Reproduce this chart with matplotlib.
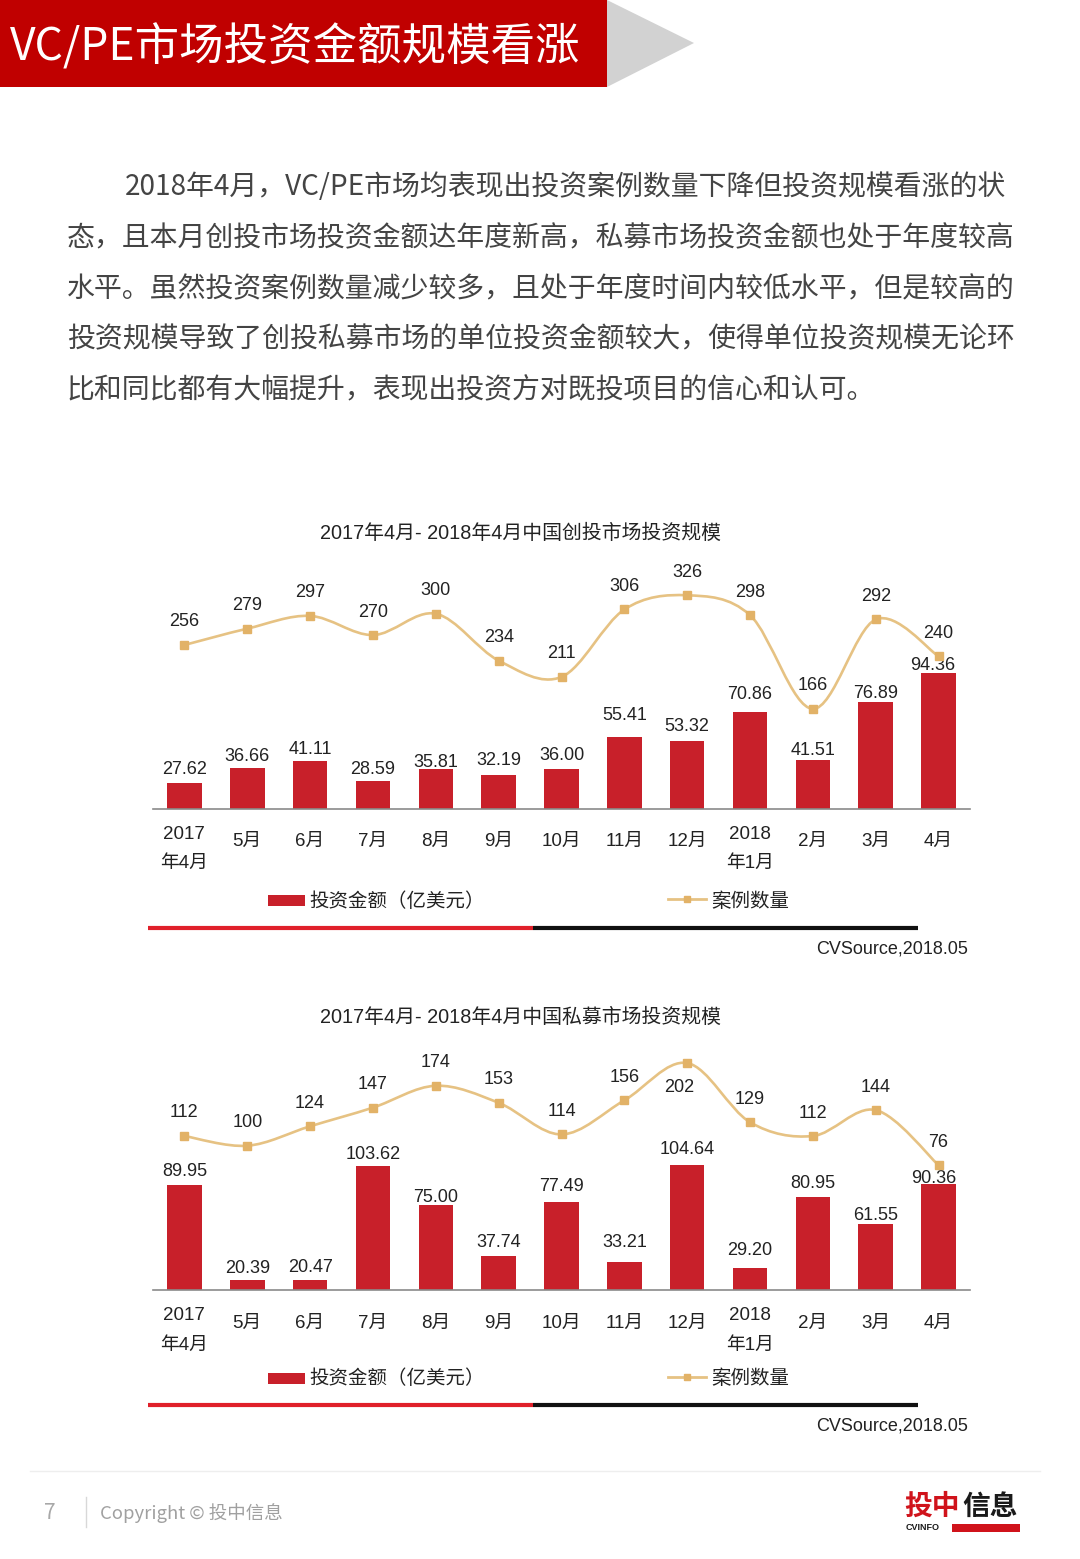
import numpy as np
import matplotlib
matplotlib.use('Agg')
import matplotlib.pyplot as plt
from matplotlib.path import Path
from matplotlib.patches import PathPatch, Rectangle, Polygon
from matplotlib.transforms import blended_transform_factory

# ---- data ----
months = ['2017\n年4月', '5月', '6月', '7月', '8月', '9月', '10月', '11月', '12月',
          '2018\n年1月', '2月', '3月', '4月']
vc_amount = [27.62, 36.66, 41.11, 28.59, 35.81, 32.19, 36.00, 55.41, 53.32, 70.86, 41.51, 76.89, 94.36]
vc_deals = [256, 279, 297, 270, 300, 234, 211, 306, 326, 298, 166, 292, 240]
pe_amount = [89.95, 20.39, 20.47, 103.62, 75.00, 37.74, 77.49, 33.21, 104.64, 29.20, 80.95, 61.55, 90.36]
pe_deals = [112, 100, 124, 147, 174, 153, 114, 156, 202, 129, 112, 144, 76]

vc_title = '2017年4月- 2018年4月中国创投市场投资规模'
pe_title = '2017年4月- 2018年4月中国私募市场投资规模'
legend_bar = '投资金额（亿美元）'
legend_line = '案例数量'
source = 'CVSource,2018.05'

header = 'VC/PE市场投资金额规模看涨'
paragraph = [
    '2018年4月，VC/PE市场均表现出投资案例数量下降但投资规模看涨的状',
    '态，且本月创投市场投资金额达年度新高，私募市场投资金额也处于年度较高',
    '水平。虽然投资案例数量减少较多，且处于年度时间内较低水平，但是较高的',
    '投资规模导致了创投私募市场的单位投资金额较大，使得单位投资规模无论环',
    '比和同比都有大幅提升，表现出投资方对既投项目的信心和认可。',
]

# ---- style ----
W, H = 1080, 1559
RED = '#C8202A'
GOLD_LINE = '#E6C283'
GOLD_MARK = '#E2B267'
TXT = '#222222'
CJK = ['Noto Sans CJK SC', 'DejaVu Sans']
MIX = ['Liberation Sans', 'Noto Sans CJK SC', 'DejaVu Sans']
NUM = ['Liberation Sans', 'DejaVu Sans']

plt.rcParams['font.family'] = CJK

fig = plt.figure(figsize=(W / 100, H / 100), dpi=100)
fig.patch.set_facecolor('white')

page = fig.add_axes([0, 0, 1, 1], zorder=0)
page.set_xlim(0, W)
page.set_ylim(H, 0)
page.axis('off')

# header banner
page.add_patch(Rectangle((0, 0), 607, 87, color='#C00000', lw=0))
page.add_patch(Polygon([(607, 0), (694, 43), (607, 87)], closed=True, color='#D2D2D2', lw=0))
page.text(10, 47, header, color='white', fontsize=32, va='center', ha='left', family=CJK)

# paragraph
para_y = [187, 238, 289, 339, 389]
for k, line in enumerate(paragraph):
    x0 = 125 if k == 0 else 67
    page.text(x0, para_y[k], line, fontsize=20.1, color='#444444', va='center', ha='left', family=CJK)


def smooth_path(x, y):
    # Excel-style smoothed line, drawn as cubic Bezier segments through the points
    pts = np.column_stack([x, y]).astype(float)
    n = len(pts)
    verts = [pts[0]]
    codes = [Path.MOVETO]
    for i in range(n - 1):
        p0 = pts[max(i - 1, 0)]
        p1 = pts[i]
        p2 = pts[i + 1]
        p3 = pts[min(i + 2, n - 1)]
        verts += [p1 + (p2 - p0) / 6, p2 - (p3 - p1) / 6, p2]
        codes += [Path.CURVE4] * 3
    return Path(verts, codes)


def draw_chart(top, base, amount, deals, title, bar_lim, line_lim, lay):
    ax = fig.add_axes([153 / W, 1 - base / H, (970 - 153) / W, (base - top) / H], zorder=2)
    ax.set_facecolor('none')
    x = np.arange(len(amount))
    ax.bar(x, amount, width=0.55, color=RED, zorder=2)
    ax.set_xlim(-0.5, len(amount) - 0.5)
    ax.set_ylim(*bar_lim)
    for s in ['top', 'left', 'right']:
        ax.spines[s].set_visible(False)
    ax.spines['bottom'].set_color('#8A8A8A')
    ax.spines['bottom'].set_linewidth(1.2)
    ax.set_xticks([])
    ax.set_yticks([])

    ax2 = ax.twinx()
    ax2.set_ylim(*line_lim)
    ax2.axis('off')
    ax2.add_patch(PathPatch(smooth_path(x, deals), fill=False, edgecolor=GOLD_LINE, lw=1.9,
                            zorder=3, clip_on=False))
    ax2.plot(x, deals, 's', color=GOLD_MARK, ms=6, zorder=4, clip_on=False)

    for i, v in enumerate(amount):
        dx, dy = lay['bar_off'][i]
        ax.annotate(f'{v:.2f}', (i, v), xytext=(dx, dy), textcoords='offset pixels',
                    ha='center', va='center', fontsize=13, color=TXT, family=NUM,
                    annotation_clip=False, zorder=5)
    for i, v in enumerate(deals):
        dx, dy = lay['line_off'].get(i, (0, 23))
        ax2.annotate(f'{v}', (i, v), xytext=(dx, dy), textcoords='offset pixels',
                     ha='center', va='center', fontsize=13, color=TXT, family=NUM,
                     annotation_clip=False, zorder=5)

    # month labels
    tr = blended_transform_factory(ax.transData, page.transData)
    for i, lab in enumerate(months):
        parts = lab.split('\n')
        if len(parts) == 1:
            ax.text(i, lay['tick1'], lab, transform=tr, ha='center', va='center',
                    fontsize=13.5, color=TXT, family=MIX)
        else:
            for p, yy in zip(parts, lay['tick2']):
                ax.text(i, yy, p, transform=tr, ha='center', va='center',
                        fontsize=13.5, color=TXT, family=MIX)

    page.text(520, lay['title'], title, ha='center', va='center', fontsize=14.3, color=TXT, family=MIX)

    # legend
    ly = lay['legend']
    page.add_patch(Rectangle((268, ly - 6), 37, 11, color=RED, lw=0))
    page.text(309, ly, legend_bar, ha='left', va='center', fontsize=14, color=TXT, family=CJK)
    page.plot([668, 706], [ly - 2, ly - 2], color=GOLD_LINE, lw=2)
    page.plot([687], [ly - 2], 's', color=GOLD_MARK, ms=5)
    page.text(711, ly, legend_line, ha='left', va='center', fontsize=14, color=TXT, family=CJK)

    # rule and source
    ry = lay['rule']
    page.plot([148, 533], [ry, ry], color='#E0202A', lw=3, solid_capstyle='butt')
    page.plot([533, 918], [ry, ry], color='#111111', lw=3, solid_capstyle='butt')
    page.text(968, lay['source'], source, ha='right', va='center', fontsize=13, color=TXT, family=NUM)


vc_layout = {
    'bar_off': [(0, 13), (0, 12), (0, 11), (0, 12), (0, 7), (0, 15), (0, 14),
                (0, 22), (0, 14), (0, 17), (0, 10), (0, 8), (-6, 7)],
    'line_off': {},
    'tick1': 841, 'tick2': [834, 863],
    'title': 533, 'legend': 901, 'rule': 928, 'source': 949,
}
pe_layout = {
    'bar_off': [(0, 13), (0, 12), (0, 12), (0, 11), (0, 8), (0, 14), (0, 15),
                (0, 20), (0, 15), (0, 17), (0, 14), (0, 8), (-5, 6)],
    'line_off': {0: (0, 24), 8: (-8, -24)},
    'tick1': 1323, 'tick2': [1316, 1345],
    'title': 1017, 'legend': 1379, 'rule': 1405, 'source': 1426,
}

draw_chart(560, 809, vc_amount, vc_deals, vc_title, (11.84, 162.9), (25, 375.7), vc_layout)
draw_chart(1040, 1290, pe_amount, pe_deals, pe_title, (13.09, 195.6), (-77.9, 230.4), pe_layout)

# footer
page.plot([30, 1040], [1471, 1471], color='#EEEEEE', lw=1)
page.text(50, 1513, '7', ha='center', va='center', fontsize=15, color='#A8A8A8', family=CJK)
page.plot([86, 86], [1497, 1527], color='#D8D8D8', lw=1)
page.text(100, 1513, 'Copyright © 投中信息', ha='left', va='center', fontsize=13.3, color='#A0A0A0', family=CJK)

page.text(904, 1507, '投中', ha='left', va='center', fontsize=20, fontweight='bold', color='#D0131B', family=CJK)
page.text(962, 1507, '信息', ha='left', va='center', fontsize=20, fontweight='bold', color='#1A1A1A', family=CJK)
page.text(906, 1528, 'CVINFO', ha='left', va='center', fontsize=6.5, fontweight='bold', color='#1A1A1A', family=NUM)
page.add_patch(Rectangle((952, 1524), 68, 8, color='#D0131B', lw=0))

fig.savefig('out.png', dpi=100, facecolor='white')
